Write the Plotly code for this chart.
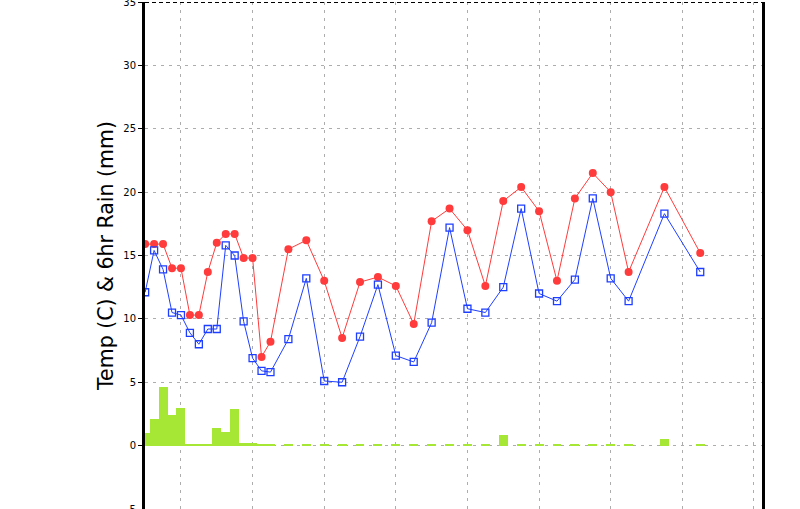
import plotly.graph_objects as go

# hours since start of forecast
hours = [0, 3, 6, 9, 12, 15, 18, 21, 24, 27, 30, 33, 36, 39, 42,
         48, 54, 60, 66, 72, 78, 84, 90, 96, 102, 108, 114, 120, 126,
         132, 138, 144, 150, 156, 162, 174, 186]

temp_max = [15.9, 15.9, 15.9, 14.0, 14.0, 10.3, 10.3, 13.7, 16.0, 16.7, 16.7, 14.8, 14.8, 7.0, 8.2,
            15.5, 16.2, 13.0, 8.5, 12.9, 13.3, 12.6, 9.6, 17.7, 18.7, 17.0, 12.6, 19.3, 20.4,
            18.5, 13.0, 19.5, 21.5, 20.0, 13.7, 20.4, 15.2]

temp_min = [12.1, 15.4, 13.9, 10.5, 10.3, 8.9, 8.0, 9.2, 9.2, 15.8, 15.0, 9.8, 6.9, 5.9, 5.8,
            8.4, 13.2, 5.1, 5.0, 8.6, 12.7, 7.1, 6.6, 9.7, 17.2, 10.8, 10.5, 12.5, 18.7,
            12.0, 11.4, 13.1, 19.5, 13.2, 11.4, 18.3, 13.7]

rain = [1.0, 2.1, 4.6, 2.4, 3.0, 0.07, 0.07, 0.07, 1.4, 1.1, 2.9, 0.24, 0.24, 0.1, 0.1,
        0.08, 0.16, 0.08, 0.08, 0.08, 0.08, 0.08, 0.08, 0.08, 0.08, 0.08, 0.08, 0.87, 0.08,
        0.08, 0.08, 0.16, 0.08, 0.08, 0.08, 0.55, 0.16]

y_ticks = [-5, 0, 5, 10, 15, 20, 25, 30, 35]
x_grid = [12, 36, 60, 84, 108, 132, 156, 180, 204]

fig = go.Figure()
fig.add_trace(go.Bar(x=hours, y=rain, width=[3] * len(hours),
                     marker=dict(color="#a6e635", line=dict(width=0)),
                     showlegend=False, hoverinfo="skip"))
fig.add_trace(go.Scatter(x=hours, y=temp_max, mode="lines+markers",
                         line=dict(color="#ff3b3b", width=1),
                         marker=dict(symbol="circle", size=8, color="#ff3b3b"),
                         showlegend=False))
fig.add_trace(go.Scatter(x=hours, y=temp_min, mode="lines+markers",
                         line=dict(color="#1f3fff", width=1),
                         marker=dict(symbol="square-open", size=7, color="#1f3fff",
                                     line=dict(width=1.3)),
                         showlegend=False))

fig.add_shape(type="line", xref="paper", yref="y", x0=0, x1=1, y0=35, y1=35,
              line=dict(color="black", width=2, dash="4px,3px"))

fig.update_layout(
    width=800, height=509,
    margin=dict(l=145, r=38, t=2, b=0, autoexpand=False),
    paper_bgcolor="white", plot_bgcolor="white",
    bargap=0,
    font=dict(family="DejaVu Sans", color="black"),
)
fig.update_xaxes(range=[-0.05, 206.7], tickvals=x_grid, showticklabels=False,
                 showgrid=True, gridcolor="#adadad", griddash="3px,5px", gridwidth=1,
                 zeroline=False, showline=False, ticks="")
fig.update_yaxes(range=[-5, 35], tickvals=y_ticks, ticktext=[str(v) for v in y_ticks],
                 tickfont=dict(size=10, family="DejaVu Sans", color="black"),
                 ticklabeloverflow="allow",
                 ticks="outside", ticklen=4, tickcolor="black",
                 showgrid=True, gridcolor="#adadad", griddash="3px,5px", gridwidth=1,
                 zeroline=False, showline=True, linecolor="black", linewidth=3,
                 mirror=True, automargin=False,
                 title=dict(text="Temp (C) & 6hr Rain (mm)",
                            font=dict(size=20.5, family="DejaVu Sans", color="black"),
                            standoff=5))

fig.write_html("out.html", config={"displayModeBar": False},
               post_script="document.body.style.margin='0';document.body.style.padding='0';")
